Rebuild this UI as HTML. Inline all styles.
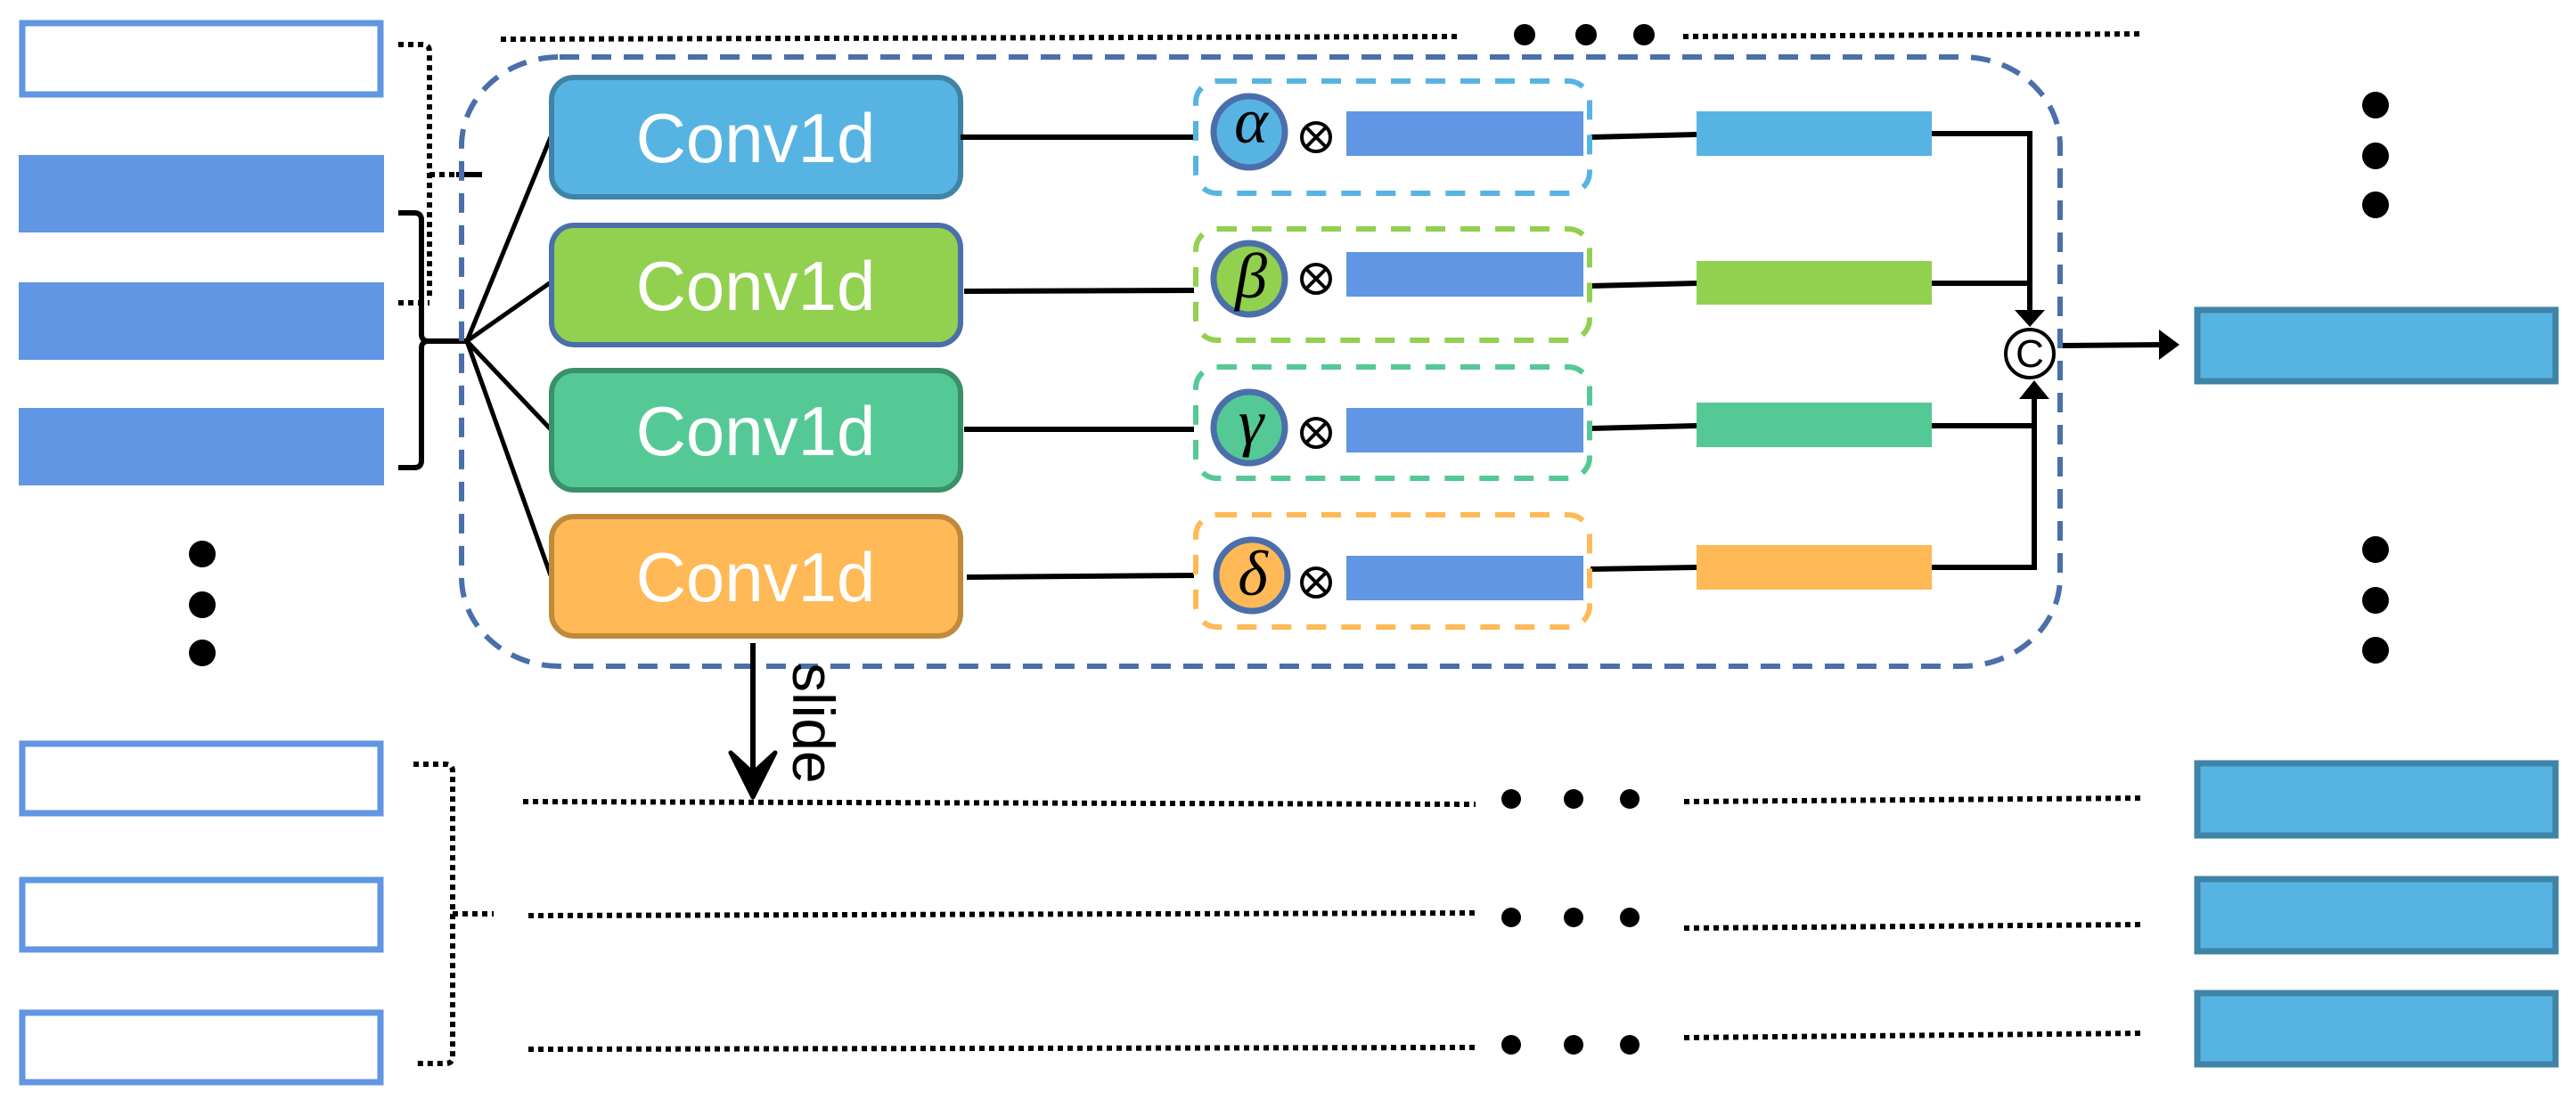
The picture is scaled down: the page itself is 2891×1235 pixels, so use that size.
<!DOCTYPE html>
<html><head><meta charset="utf-8"><style>
html,body{margin:0;padding:0;background:#fff;}
svg{display:block;}
</style></head><body>
<svg width="2891" height="1235" viewBox="0 0 2891 1235" xmlns="http://www.w3.org/2000/svg">
<defs>
<marker id="ah" markerWidth="10" markerHeight="10" refX="9" refY="5" orient="auto" markerUnits="userSpaceOnUse"></marker>
</defs>
<!-- left input boxes -->
<rect x="25" y="26" width="402" height="80" fill="#fff" stroke="#6096e3" stroke-width="7"/>
<rect x="21" y="174" width="410" height="87" fill="#6096e3"/>
<rect x="21" y="317" width="410" height="87" fill="#6096e3"/>
<rect x="21" y="458" width="410" height="87" fill="#6096e3"/>
<circle cx="227" cy="622" r="15"/><circle cx="227" cy="679" r="15"/><circle cx="227" cy="733" r="15"/>
<rect x="25" y="835" width="402" height="78" fill="#fff" stroke="#6096e3" stroke-width="7"/>
<rect x="25" y="988" width="402" height="78" fill="#fff" stroke="#6096e3" stroke-width="7"/>
<rect x="25" y="1137" width="402" height="78" fill="#fff" stroke="#6096e3" stroke-width="7"/>

<!-- dotted brace top -->
<g fill="none" stroke="#000" stroke-width="6" stroke-dasharray="6 5">
<path d="M447 50 H474 Q482 50 482 58 V337 M482 196 H512 M447 340 H482"/>
<path d="M464 858 H500 Q508 858 508 866 V1186 Q508 1194 500 1194 H464 M508 1026 H554"/>
<!-- top dotted lines -->
<path d="M562 44 L1640 41"/>
<path d="M1889 41 L2406 38"/>
<path d="M587 900 L1656 903"/>
<path d="M1890 900 L2406 896"/>
<path d="M593 1028 L1656 1025"/>
<path d="M1890 1042 L2406 1038"/>
<path d="M593 1178 L1656 1176"/>
<path d="M1890 1165 L2406 1160"/>
</g>
<path d="M512 196 H541" stroke="#000" stroke-width="6"/>
<!-- dots -->
<g>
<circle cx="1711" cy="39" r="12"/><circle cx="1780" cy="39" r="12"/><circle cx="1845" cy="39" r="12"/>
<circle cx="1696" cy="897" r="11"/><circle cx="1766" cy="897" r="11"/><circle cx="1829" cy="897" r="11"/>
<circle cx="1696" cy="1030" r="11"/><circle cx="1766" cy="1030" r="11"/><circle cx="1829" cy="1030" r="11"/>
<circle cx="1696" cy="1173" r="11"/><circle cx="1766" cy="1173" r="11"/><circle cx="1829" cy="1173" r="11"/>
<circle cx="2666" cy="118" r="15"/><circle cx="2666" cy="175" r="15"/><circle cx="2666" cy="230" r="15"/>
<circle cx="2666" cy="617" r="15"/><circle cx="2666" cy="674" r="15"/><circle cx="2666" cy="730" r="15"/>
</g>
<!-- solid brace -->
<path d="M447 239 H465 Q473 239 473 247 V375 Q473 383 481 383 H524 M481 383 Q473 383 473 391 V517 Q473 525 465 525 H447" fill="none" stroke="#000" stroke-width="6"/>

<!-- outer dashed region -->
<rect x="518" y="64" width="1794" height="684" rx="110" ry="100" fill="none" stroke="#4a6faa" stroke-width="6" stroke-dasharray="22 14"/>

<!-- fan lines -->
<g stroke="#000" stroke-width="5">
<line x1="524" y1="383" x2="618" y2="154"/>
<line x1="524" y1="383" x2="618" y2="317"/>
<line x1="524" y1="383" x2="618" y2="482"/>
<line x1="524" y1="383" x2="618" y2="646"/>
</g>

<!-- conv boxes -->
<g stroke-width="6" font-family="Liberation Sans, Arial, sans-serif" font-size="78" fill="#fff" text-anchor="middle">
<rect x="619" y="87" width="459" height="134" rx="25" fill="#57b4e2" stroke="#3f84a6"/>
<rect x="619" y="253" width="459" height="134" rx="25" fill="#92d050" stroke="#4a6faa"/>
<rect x="619" y="416" width="459" height="134" rx="25" fill="#55c995" stroke="#3a9068"/>
<rect x="619" y="580" width="459" height="134" rx="25" fill="#ffb957" stroke="#bf8a3a"/>
<text x="848" y="182" stroke="none">Conv1d</text>
<text x="848" y="348" stroke="none">Conv1d</text>
<text x="848" y="511" stroke="none">Conv1d</text>
<text x="848" y="675" stroke="none">Conv1d</text>
</g>

<!-- conv to dashed box lines -->
<g stroke="#000" stroke-width="6">
<line x1="1078" y1="154" x2="1340" y2="154"/>
<line x1="1082" y1="327" x2="1340" y2="326"/>
<line x1="1082" y1="482" x2="1340" y2="482"/>
<line x1="1085" y1="648" x2="1340" y2="646"/>
<line x1="1785" y1="154" x2="1904" y2="151"/>
<line x1="1785" y1="321" x2="1904" y2="318"/>
<line x1="1785" y1="481" x2="1904" y2="478"/>
<line x1="1785" y1="639" x2="1904" y2="637"/>
</g>

<!-- small dashed boxes -->
<g fill="none" stroke-width="6" stroke-dasharray="22 17">
<rect x="1342" y="91" width="442" height="126" rx="24" stroke="#57b4e2"/>
<rect x="1342" y="257" width="442" height="125" rx="24" stroke="#92d050"/>
<rect x="1342" y="412" width="442" height="125" rx="24" stroke="#55c995"/>
<rect x="1342" y="578" width="442" height="126" rx="24" stroke="#ffb957"/>
</g>
<!-- circles -->
<g stroke="#4a6faa" stroke-width="7">
<circle cx="1402" cy="148" r="40" fill="#57b4e2"/>
<circle cx="1402" cy="313" r="40" fill="#92d050"/>
<circle cx="1402" cy="480" r="40" fill="#55c995"/>
<circle cx="1405" cy="646" r="40" fill="#ffb957"/>
</g>
<g font-family="Liberation Serif, serif" font-style="italic" font-size="72" text-anchor="middle">
<text x="1404" y="160">α</text>
<text x="1404" y="334">β</text>
<text x="1404" y="498">γ</text>
<text x="1406" y="668">δ</text>
</g>
<!-- otimes -->
<g fill="none" stroke="#000" stroke-width="4">
<g transform="translate(1477,154)"><circle r="16"/><path d="M-11 -11 L11 11 M-11 11 L11 -11"/></g>
<g transform="translate(1477,313)"><circle r="16"/><path d="M-11 -11 L11 11 M-11 11 L11 -11"/></g>
<g transform="translate(1477,486)"><circle r="16"/><path d="M-11 -11 L11 11 M-11 11 L11 -11"/></g>
<g transform="translate(1477,654)"><circle r="16"/><path d="M-11 -11 L11 11 M-11 11 L11 -11"/></g>
</g>
<!-- blue bars -->
<rect x="1511" y="125" width="266" height="50" fill="#6096e3"/>
<rect x="1511" y="283" width="266" height="50" fill="#6096e3"/>
<rect x="1511" y="458" width="266" height="50" fill="#6096e3"/>
<rect x="1511" y="624" width="266" height="50" fill="#6096e3"/>
<!-- colored bars -->
<rect x="1904" y="125" width="264" height="50" fill="#57b4e2"/>
<rect x="1904" y="293" width="264" height="49" fill="#92d050"/>
<rect x="1904" y="452" width="264" height="50" fill="#55c995"/>
<rect x="1904" y="612" width="264" height="50" fill="#ffb957"/>

<!-- concat connectors -->
<g fill="none" stroke="#000" stroke-width="6">
<path d="M2168 150 H2278 V350"/>
<path d="M2168 318 H2278"/>
<path d="M2168 478 H2286"/>
<path d="M2168 637 H2283 V444"/>
<path d="M2315 388 L2425 387"/>
</g>
<path d="M2261 348 L2295 348 L2278 367 Z"/>
<path d="M2266 448 L2300 448 L2283 427 Z"/>
<path d="M2423 370 L2446 387 L2423 404 Z"/>
<circle cx="2278" cy="397" r="27" fill="#fff" stroke="#000" stroke-width="4"/>
<text x="2278" y="412" font-family="Liberation Sans, sans-serif" font-size="44" text-anchor="middle">C</text>

<!-- right boxes -->
<g fill="#57b4e2" stroke="#3f84a6" stroke-width="7">
<rect x="2466" y="348" width="402" height="80"/>
<rect x="2466" y="857" width="402" height="81"/>
<rect x="2466" y="987" width="402" height="81"/>
<rect x="2466" y="1115" width="402" height="80"/>
</g>

<!-- slide arrow -->
<line x1="845" y1="722" x2="845" y2="885" stroke="#000" stroke-width="6"/>
<path d="M820 845 L845 895 L870 845 L845 868 Z" stroke="#000" stroke-width="5" stroke-linejoin="round"/>
<text x="0" y="0" transform="translate(890,744) rotate(90)" font-family="Liberation Sans, sans-serif" font-size="66">slide</text>
</svg>
</body></html>
